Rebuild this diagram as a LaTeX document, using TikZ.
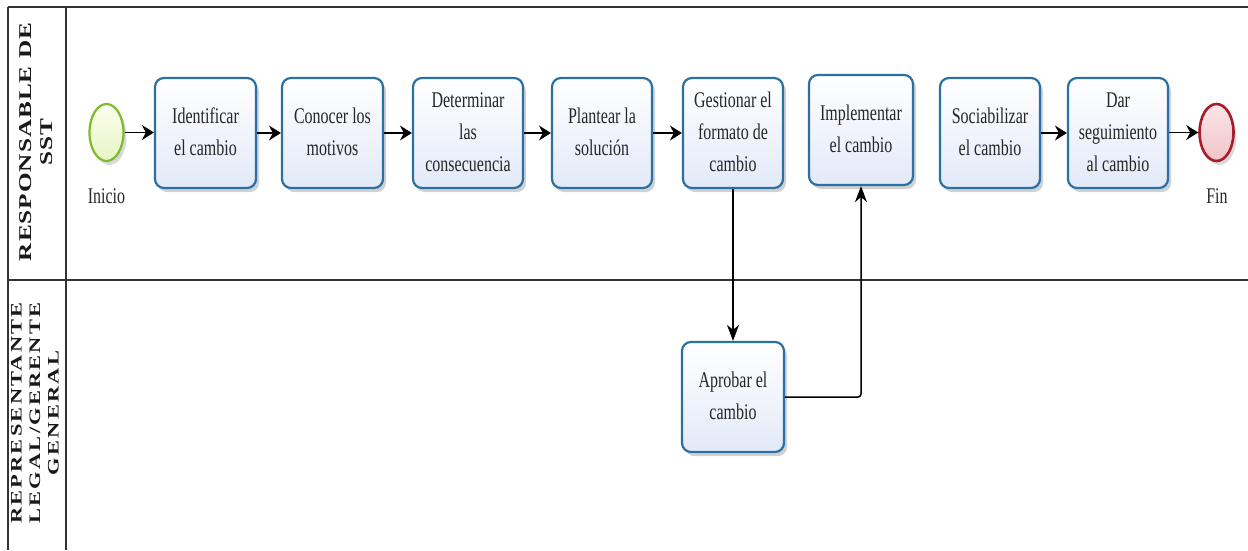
\documentclass[tikz,border=0pt]{standalone}
\usepackage{fontspec}
\setmainfont{Liberation Serif}
\newfontfamily\laneafont[LetterSpace=4]{Liberation Serif}
\newfontfamily\lanebfont[LetterSpace=10]{Liberation Serif}
\usetikzlibrary{shapes.geometric,shadows,arrows.meta}
\definecolor{frameline}{HTML}{333333}
\definecolor{boxblue}{HTML}{2A70A0}
\definecolor{boxfill}{HTML}{E2E9F8}
\definecolor{startline}{HTML}{7DBB2E}
\definecolor{starttop}{HTML}{FCFEEE}
\definecolor{startbot}{HTML}{E8F4C6}
\definecolor{endline}{HTML}{A81E28}
\definecolor{endtop}{HTML}{FBE6E8}
\definecolor{endbot}{HTML}{F1C3C8}
\newcommand{\boxtext}[1]{\scalebox{1}[1.4]{\fontsize{16}{23}\selectfont\begin{tabular}{@{}c@{}}#1\end{tabular}}}
\newcommand{\lanetext}[4]{\scalebox{1.4}[1]{\fontsize{#1}{#2}\selectfont#3\bfseries\begin{tabular}{@{}c@{}}#4\end{tabular}}}
\tikzset{
  frame/.style={draw=frameline, line width=1.5pt},
  task/.style={rectangle, rounded corners=9pt, draw=boxblue, line width=2.2pt,
    top color=white, bottom color=boxfill, inner sep=0pt, text=black!85,
    drop shadow={shadow xshift=3pt, shadow yshift=-4pt, opacity=0.18, fill=black}},
  startev/.style={ellipse, draw=startline, line width=2.2pt, top color=starttop, bottom color=startbot,
    minimum width=34pt, minimum height=57pt, inner sep=0pt,
    drop shadow={shadow xshift=3pt, shadow yshift=-4pt, opacity=0.15, fill=black}},
  endev/.style={ellipse, draw=endline, line width=2.6pt, top color=endtop, bottom color=endbot,
    minimum width=34pt, minimum height=57pt, inner sep=0pt,
    drop shadow={shadow xshift=3pt, shadow yshift=-4pt, opacity=0.15, fill=black}},
  evlabel/.style={inner sep=0pt, text=black!85},
  hflow/.style={draw=black, line width=1.5pt, -{Stealth[length=12pt,width=15pt,inset=4pt]}},
  vflow/.style={draw=black, line width=1.5pt, -{Stealth[length=16pt,width=12pt,inset=5pt]}},
  lanelabel/.style={rotate=90, inner sep=0pt, text=black!90},
}
\begin{document}
\begin{tikzpicture}[x=1pt,y=-1pt]
\useasboundingbox (0,0) rectangle (1248,550);
% frame
\coordinate (tl) at (8,7);
\coordinate (tr) at (1248,7);
\coordinate (bl) at (8,550);
\coordinate (dt) at (66,7);
\coordinate (db) at (66,550);
\coordinate (sl) at (8,280);
\coordinate (sr) at (1248,280);
\draw[frame] (tl) -- (tr);
\draw[frame] (tl) -- (bl);
\draw[frame] (dt) -- (db);
\draw[frame] (sl) -- (sr);
% lane labels
\node[lanelabel] (lane1) at (37.5,142) {\lanetext{18}{21}{\laneafont}{RESPONSABLE DE\\SST}};
\node[lanelabel] (lane2) at (36.5,413) {\lanetext{16}{18.5}{\lanebfont}{REPRESENTANTE\\LEGAL/GERENTE\\GENERAL}};
% events
\node[startev] (ini) at (106.5,132.5) {};
\node[evlabel] (inilab) at (106.5,197) {\boxtext{Inicio}};
\node[endev] (fin) at (1216.5,132.5) {};
\node[evlabel] (finlab) at (1217,197) {\boxtext{Fin}};
% tasks
\node[task, minimum width=101pt, minimum height=110pt] (id) at (205.5,133) {\boxtext{Identificar\\el cambio}};
\node[task, minimum width=101pt, minimum height=110pt] (con) at (332.5,133) {\boxtext{Conocer los\\motivos}};
\node[task, minimum width=110pt, minimum height=110pt] (det) at (468,133) {\boxtext{Determinar\\las\\consecuencia}};
\node[task, minimum width=100pt, minimum height=110pt] (pla) at (602,133) {\boxtext{Plantear la\\soluci\'on}};
\node[task, minimum width=100pt, minimum height=110pt] (ges) at (733,133) {\boxtext{Gestionar el\\formato de\\cambio}};
\node[task, minimum width=104pt, minimum height=110pt] (imp) at (861,130) {\boxtext{Implementar\\el cambio}};
\node[task, minimum width=100pt, minimum height=110pt] (soc) at (990,133) {\boxtext{Sociabilizar\\el cambio}};
\node[task, minimum width=100pt, minimum height=110pt] (dar) at (1118,133) {\boxtext{Dar\\seguimiento\\al cambio}};
\node[task, minimum width=102pt, minimum height=110pt] (apr) at (733,397) {\boxtext{Aprobar el\\cambio}};
% flows
\draw[hflow] (ini.east) -- (ini.east -| id.west);
\draw[hflow] (id.east) -- (con.west);
\draw[hflow] (con.east) -- (det.west);
\draw[hflow] (det.east) -- (pla.west);
\draw[hflow] (pla.east) -- (ges.west);
\draw[hflow] (soc.east) -- (dar.west);
\draw[hflow] (dar.east |- fin.west) -- (fin.west);
\draw[vflow] (ges.south) -- (apr.north);
\draw[vflow, rounded corners=3pt] (apr.east) -| (imp.south);
\end{tikzpicture}
\end{document}
